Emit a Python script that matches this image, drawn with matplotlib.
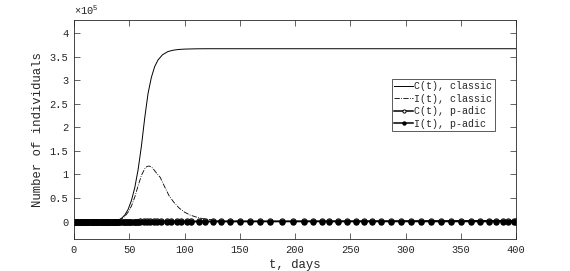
import matplotlib
matplotlib.use("Agg")
import matplotlib.pyplot as plt
from matplotlib.ticker import FuncFormatter, FixedLocator

plt.rcParams['font.family'] = ['Liberation Mono', 'DejaVu Sans Mono']
plt.rcParams['mathtext.fontset'] = 'custom'
plt.rcParams['mathtext.rm'] = 'Liberation Mono'
plt.rcParams['mathtext.default'] = 'regular'

SCALE = 1e5

# classic model (values in units of 1e5)
t_classic_C = [0, 20, 30, 35, 40, 43, 46, 49, 52, 55, 58, 61, 64, 67, 70, 73, 76, 80,
               85, 90, 95, 100, 110, 120, 140, 200, 300, 400]
C_classic = [0, 0.0005, 0.003, 0.008, 0.03, 0.07, 0.14, 0.26, 0.45, 0.72, 1.1, 1.6, 2.2,
             2.72, 3.06, 3.29, 3.43, 3.54, 3.61, 3.64, 3.655, 3.662, 3.668, 3.67, 3.67,
             3.67, 3.67, 3.67]

t_classic_I = [0, 20, 30, 35, 40, 43, 46, 49, 52, 55, 58, 61, 64, 66, 68, 70, 72, 75, 78,
               82, 86, 90, 95, 100, 105, 110, 115, 120, 130, 140, 160, 200, 400]
I_classic = [0, 0.0005, 0.003, 0.007, 0.025, 0.055, 0.11, 0.2, 0.33, 0.52, 0.76, 0.98,
             1.12, 1.17, 1.18, 1.16, 1.11, 1.02, 0.94, 0.74, 0.55, 0.42, 0.29, 0.2, 0.14,
             0.1, 0.07, 0.05, 0.025, 0.012, 0.003, 0.0, 0.0]

# p-adic model (solver output points, people)
t_padic = [0, 1, 2, 3, 4, 5, 6, 7, 8, 9, 10, 11, 12, 13, 14, 15, 16, 17, 18, 19, 20,
           21, 22, 23, 24, 25, 26, 27, 28, 29, 30, 31, 32, 33, 34, 35, 36, 37, 38, 39, 40,
           42, 44, 46, 48, 50, 52, 54, 56, 58, 60,
           63, 66, 69, 72, 75.5, 79,
           84, 88, 93, 97, 102, 106,
           113, 119, 126, 133, 141, 150, 159, 168, 177,
           188, 198, 208, 216, 224, 231, 239, 247, 255, 262, 270, 278, 287, 296,
           305, 314, 323, 332, 341, 350, 359, 367, 376, 382, 388, 393, 398, 400]
C_padic = [0, 1, 3, 4, 6, 8, 9, 11, 13, 15, 17, 19, 21, 23, 25, 27, 29, 31, 34, 36, 38,
           40, 43, 45, 48, 50, 53, 55, 58, 60, 63, 66, 68, 71, 74, 77, 80, 83, 86, 89, 92,
           98, 104, 110, 117, 123, 130, 137, 144, 151, 158,
           169, 180, 191, 203, 217, 231,
           251, 268, 289, 306, 328, 346,
           378, 406, 439, 472, 510, 553, 597, 641, 686,
           741, 791, 842, 883, 924, 960, 1001, 1043, 1084, 1120, 1162, 1203, 1250, 1297,
           1344, 1391, 1438, 1485, 1532, 1579, 1626, 1668, 1715, 1747, 1778, 1804, 1830, 1841]
I_padic = [0, 1, 1, 2, 2, 3, 3, 4, 4, 5, 5, 6, 6, 7, 7, 8, 8, 9, 9, 10, 10,
           11, 11, 12, 12, 13, 13, 14, 14, 15, 15, 16, 16, 17, 17, 18, 18, 19, 19, 20, 20,
           21, 22, 23, 24, 25, 26, 27, 28, 29, 30,
           31, 32, 33, 34, 35, 36,
           37, 38, 39, 40, 41, 42,
           43, 44, 45, 46, 47, 48, 49, 50, 51,
           52, 53, 54, 55, 56, 57, 58, 59, 60, 61, 62, 63, 64, 65,
           66, 67, 68, 69, 70, 71, 72, 73, 74, 75, 76, 77, 78, 78]

x_ticks = [0, 50, 100, 150, 200, 250, 300, 350, 400]
y_ticks = [0, 0.5, 1, 1.5, 2, 2.5, 3, 3.5, 4]

fig = plt.figure(figsize=(5.70, 2.71), dpi=100)
ax = fig.add_axes([74/570, 1 - 239/271, 442/570, 219/271])

axc = '#262626'
ax.plot(t_classic_C, [v * SCALE for v in C_classic], color='k', lw=0.7, label='C(t), classic')
ax.plot(t_classic_I, [v * SCALE for v in I_classic], color='k', lw=0.6, ls='-.',
        label='I(t), classic')
ax.plot(t_padic, C_padic, color='k', lw=1.1, marker='o', ms=3.8, mfc='white', mec='k',
        mew=0.7, label='C(t), p-adic')
ax.plot(t_padic, I_padic, color='k', lw=1.1, marker='o', ms=3.6, mfc='k', mec='k',
        label='I(t), p-adic')

ax.set_xlim(0, 400)
ax.set_ylim(-0.37 * SCALE, 4.28 * SCALE)
ax.xaxis.set_major_locator(FixedLocator(x_ticks))
ax.yaxis.set_major_locator(FixedLocator([v * SCALE for v in y_ticks]))
ax.yaxis.set_major_formatter(FuncFormatter(lambda v, p: '%g' % (v / SCALE)))

ax.tick_params(direction='in', length=4, width=0.5, colors=axc, labelsize=7.5,
               top=True, right=True, pad=4)
for s in ax.spines.values():
    s.set_color(axc)
    s.set_linewidth(0.6)

ax.set_xlabel('t, days', fontsize=8.8, color=axc, labelpad=3)
ax.set_ylabel('Number of individuals', fontsize=8.8, color=axc, labelpad=4)
ax.text(0.0, 1.015, '×10$^{5}$', transform=ax.transAxes, fontsize=7.5, color=axc,
        ha='left', va='bottom')

leg = ax.legend(loc='upper left', bbox_to_anchor=(0.719, 0.731), fontsize=7.2,
                frameon=True, fancybox=False, framealpha=1, edgecolor='#404040',
                handlelength=1.9, handletextpad=0.1, borderpad=0.25, labelspacing=0.25,
                borderaxespad=0.0, markerscale=0.6)
leg.get_frame().set_linewidth(0.6)
for txt in leg.get_texts():
    txt.set_color(axc)

fig.savefig('out.png', dpi=100)
